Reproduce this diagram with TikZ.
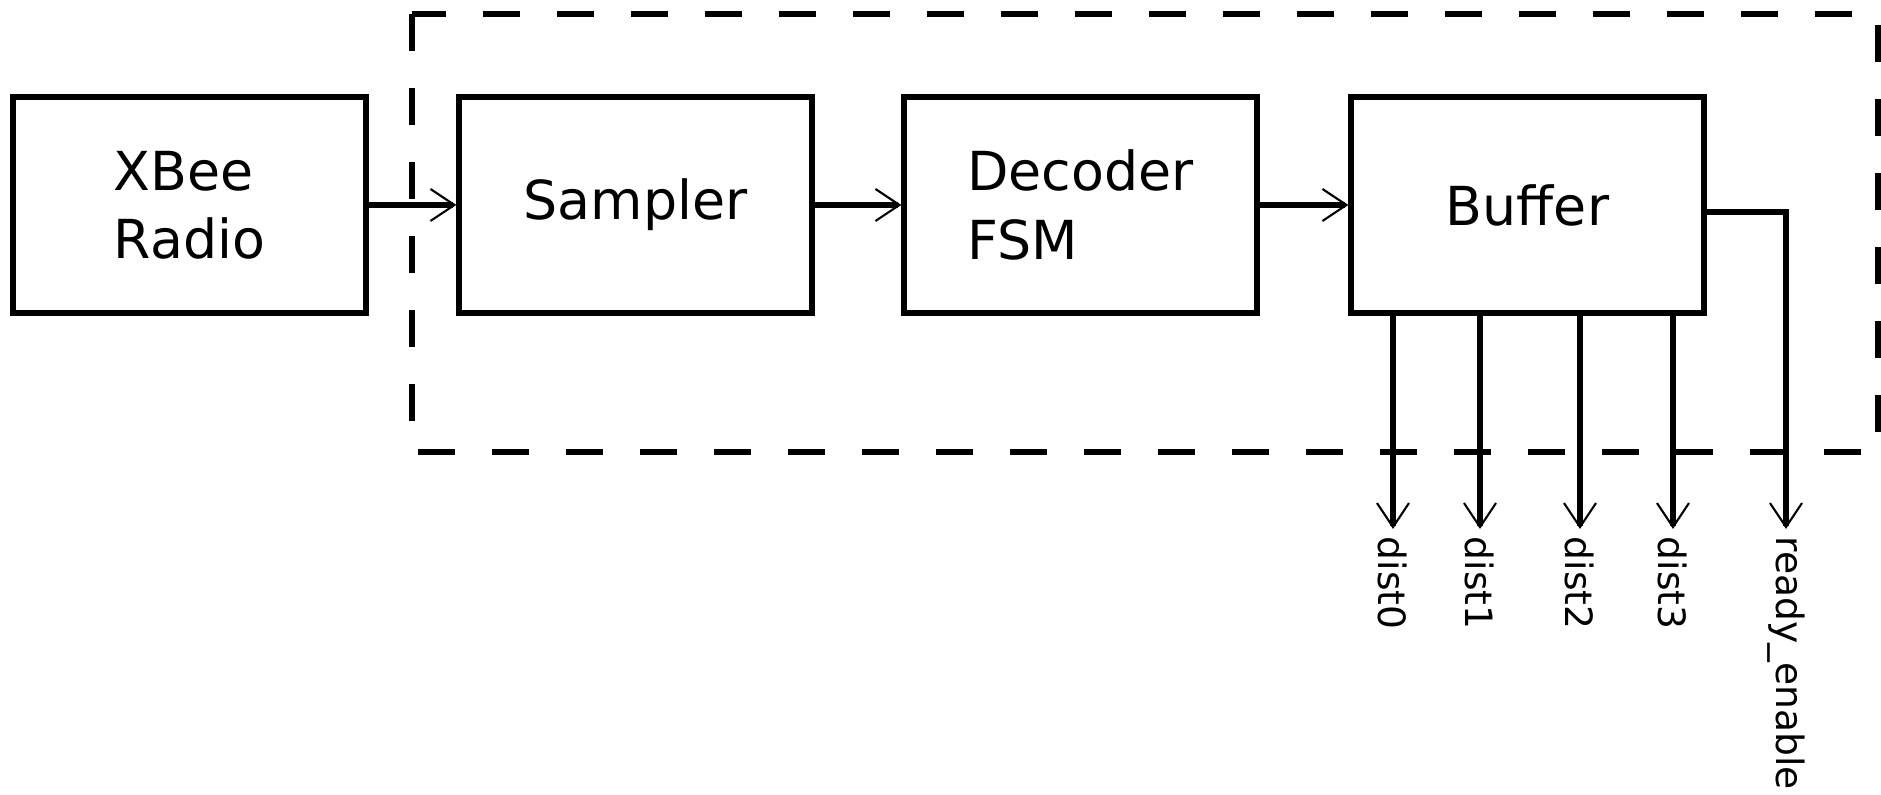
\documentclass[tikz,border=0pt]{standalone}
\usepackage{fontspec}
\setmainfont{DejaVu Sans}
\usepackage{tikz}
\usetikzlibrary{arrows.meta}

\begin{document}
\begin{tikzpicture}[
                    block/.style = {draw, line width=1.5pt, minimum width=3.53cm,
                                    minimum height=2.16cm, align=left,
                                    font=\fontsize{15.3}{19.4}\selectfont},
                    wire/.style  = {line width=1.5pt,
                                    -{Straight Barb[length=0.24cm,width=0.32cm,line width=0.6pt]}},
                    sig/.style   = {rotate=-90, anchor=west, inner sep=2pt,
                                    font=\fontsize{10.7}{13}\selectfont},
                    scale = 1]

\useasboundingbox (0,0) rectangle (18.81,7.95);

%dashed frame
\draw [line width=1.5pt, dash pattern=on 0.37cm off 0.37cm] (4.12,7.81) rectangle (18.78,3.43);

%blocks
\node [block] (xbee) at (1.895,5.90)  {XBee\\Radio};
\node [block] (samp) at (6.355,5.90)  {Sampler};
\node [block] (dec)  at (10.805,5.90) {Decoder\\FSM};
\node [block] (buf)  at (15.275,5.90) {Buffer};

%outputs
\node [sig] (d0)  at (13.93,2.66) {dist0};
\node [sig] (d1)  at (14.80,2.66) {dist1};
\node [sig] (d2)  at (15.80,2.66) {dist2};
\node [sig] (d3)  at (16.73,2.66) {dist3};
\node [sig] (rdy) at (17.86,2.66) {ready\_enable};

%chain
\draw [wire] (xbee.east) -- (samp.west);
\draw [wire] (samp.east) -- (dec.west);
\draw [wire] (dec.east)  -- (buf.west);

%buffer outputs
\draw [wire] (buf.south -| d0.west) -- (d0.west);
\draw [wire] (buf.south -| d1.west) -- (d1.west);
\draw [wire] (buf.south -| d2.west) -- (d2.west);
\draw [wire] (buf.south -| d3.west) -- (d3.west);
\draw [wire] ([yshift=-0.07cm]buf.east) -| (rdy.west);

\end{tikzpicture}
\end{document}
